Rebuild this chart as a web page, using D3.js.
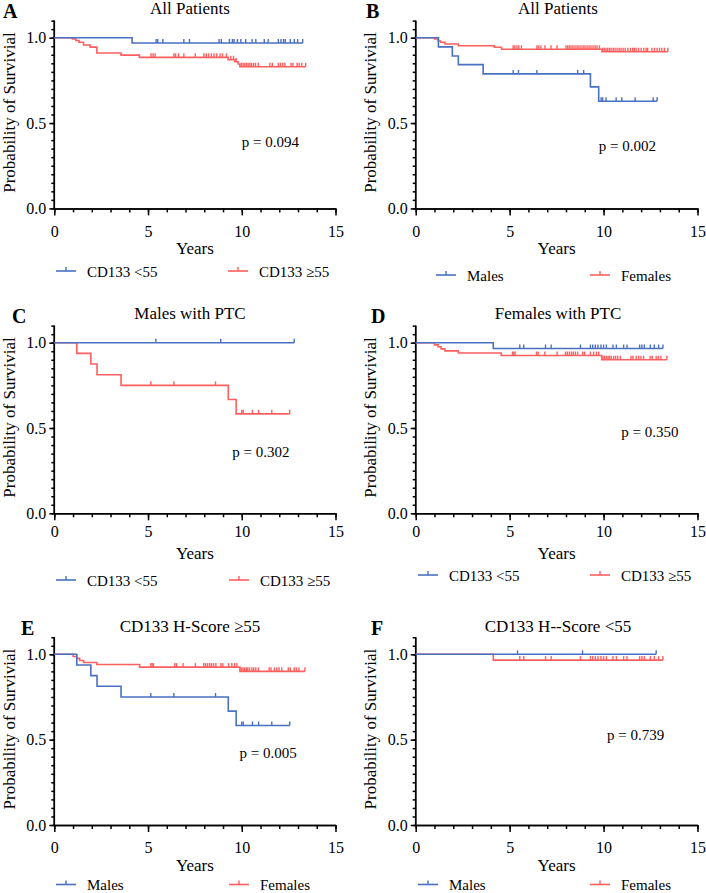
<!DOCTYPE html>
<html>
<head>
<meta charset="utf-8">
<script src="https://cdn.jsdelivr.net/npm/d3@7"></script>
<style>
  body { margin: 0; background: #fff; }
  svg { display: block; }
  svg text { font-family: "Liberation Serif", "Times New Roman", serif; }
</style>
</head>
<body>
<div id="container"></div>
<script>
// ---- data ----
const xMajorTicks = [0, 5, 10, 15];
const xMinorTicks = d3.range(0, 16, 1);
const yMajorTicks = [0, 0.5, 1.0];
const yMinorTicks = d3.range(0, 23).map(i => i * 0.05);

// [years, survival after the drop]
const allLowSteps = [[4.15, 0.969]];
const allLowCensor = [5.43, 5.52, 5.79, 6.91, 7.21, 8.79, 8.91, 9.34, 9.5, 9.59, 9.77, 9.95, 10.21, 10.55, 10.75, 11.2, 11.41, 11.95, 12.09, 12.23, 12.32, 12.59, 12.8, 12.98, 13.25];
const allHighSteps = [[0.97, 0.992], [1.15, 0.984], [1.32, 0.973], [1.56, 0.957], [1.91, 0.945], [2.27, 0.91], [3.56, 0.898], [4.54, 0.885], [9.27, 0.871], [9.63, 0.859], [9.81, 0.846], [9.9, 0.83]];
const allHighCensor = [5.16, 5.27, 5.38, 6.38, 6.47, 6.63, 6.91, 7.52, 7.98, 8.11, 8.23, 8.38, 8.52, 8.66, 8.84, 8.97, 9.18, 9.41, 9.56, 9.7, 9.98, 10.07, 10.16, 10.25, 10.34, 10.43, 10.52, 10.63, 10.73, 10.88, 11.5, 11.63, 11.95, 12.06, 12.18, 12.3, 12.63, 12.73, 12.95, 13.06, 13.2, 13.41];

const allMalesSteps = [[1.21, 0.946], [1.95, 0.893], [2.27, 0.842], [3.59, 0.788], [9.3, 0.712], [9.74, 0.628]];
const allMalesCensor = [5.19, 5.47, 6.45, 8.62, 8.94, 9.87, 9.95, 10.13, 10.67, 10.97, 11.68, 12.64, 12.85];
const allFemalesSteps = [[1.01, 0.992], [1.19, 0.981], [1.33, 0.973], [1.56, 0.963], [2.27, 0.953], [4.18, 0.944], [4.57, 0.932], [9.92, 0.918]];
const allFemalesCensor = [5.19, 5.28, 5.39, 5.49, 5.63, 6.45, 6.54, 6.67, 6.88, 7.2, 7.52, 8.0, 8.09, 8.18, 8.27, 8.37, 8.48, 8.59, 8.69, 8.8, 8.91, 9.01, 9.12, 9.23, 9.33, 9.44, 9.55, 9.65, 9.78, 9.95, 10.04, 10.13, 10.22, 10.31, 10.4, 10.51, 10.61, 10.72, 10.83, 10.93, 11.04, 11.15, 11.29, 11.43, 11.55, 11.64, 11.73, 11.86, 12.0, 12.14, 12.27, 12.35, 12.57, 12.71, 12.85, 12.98, 13.1, 13.24, 13.42];

const malesLowSteps = [];
const malesLowCensor = [5.42, 8.88, 12.8];
const malesHighSteps = [[1.2, 0.9375], [1.95, 0.875], [2.28, 0.8125], [3.56, 0.75], [9.28, 0.667], [9.7, 0.583]];
const malesHighCensor = [5.15, 6.38, 8.6, 10.0, 10.08, 10.57, 10.9, 11.6, 12.56];

const femalesLowSteps = [[4.13, 0.966]];
const femalesLowCensor = [5.54, 5.75, 6.91, 7.21, 8.77, 9.3, 9.42, 9.56, 9.7, 9.86, 10.0, 10.15, 10.5, 10.68, 11.07, 11.25, 11.92, 12.04, 12.17, 12.49, 12.7, 12.93, 13.16];
const femalesHighSteps = [[1.0, 0.987], [1.19, 0.976], [1.35, 0.964], [1.56, 0.952], [2.27, 0.94], [4.55, 0.925], [9.9, 0.9]];
const femalesHighCensor = [5.15, 5.22, 5.29, 6.43, 6.52, 6.87, 7.53, 7.97, 8.07, 8.18, 8.29, 8.39, 8.5, 8.62, 8.89, 8.99, 9.3, 9.47, 9.62, 9.74, 9.97, 10.06, 10.15, 10.24, 10.32, 10.41, 10.54, 10.64, 10.75, 10.89, 11.46, 11.56, 11.74, 11.87, 11.99, 12.13, 12.48, 12.59, 12.8, 12.91, 13.05, 13.37];

const BLUE = '#4a70c2';
const RED = '#ff5f5f';
const FONT = '"Liberation Serif", "Times New Roman", serif';

// panel layout
const cols = [{x0: 54.3, x1: 335.5}, {x0: 415.7, x1: 697.5}];
const rows = [{y0: 208.4, y1: 37.7, title: 14}, {y0: 513.3, y1: 342.7, title: 318.5}, {y0: 825, y1: 654.3, title: 631.5}];

const panels = [
  {letter: 'A', col: 0, row: 0, title: 'All Patients', p: 'p = 0.094', pAt: [10.0, 0.36],
   series: [{steps: allLowSteps, censor: allLowCensor, color: BLUE}, {steps: allHighSteps, censor: allHighCensor, color: RED}],
   legend: ['CD133 <55', 'CD133 \u226555'], legY: 271, legX: [56, 228], tickGap: 23},
  {letter: 'B', col: 1, row: 0, title: 'All Patients', p: 'p = 0.002', pAt: [9.75, 0.335],
   series: [{steps: allMalesSteps, censor: allMalesCensor, color: BLUE}, {steps: allFemalesSteps, censor: allFemalesCensor, color: RED}],
   legend: ['Males', 'Females'], legY: 275, legX: [436, 590], tickGap: 23},
  {letter: 'C', col: 0, row: 1, title: 'Males with PTC', p: 'p = 0.302', pAt: [9.49, 0.332],
   series: [{steps: malesLowSteps, censor: malesLowCensor, color: BLUE}, {steps: malesHighSteps, censor: malesHighCensor, color: RED}],
   legend: ['CD133 <55', 'CD133 \u226555'], legY: 580, legX: [56, 229], tickGap: 18},
  {letter: 'D', col: 1, row: 1, title: 'Females with PTC', p: 'p = 0.350', pAt: [10.94, 0.449],
   series: [{steps: femalesLowSteps, censor: femalesLowCensor, color: BLUE}, {steps: femalesHighSteps, censor: femalesHighCensor, color: RED}],
   legend: ['CD133 <55', 'CD133 \u226555'], legY: 575, legX: [418, 590], tickGap: 18},
  {letter: 'E', col: 0, row: 2, title: 'CD133 H-Score \u226555', p: 'p = 0.005', pAt: [9.88, 0.391],
   series: [{steps: malesHighSteps, censor: malesHighCensor, color: BLUE}, {steps: femalesHighSteps, censor: femalesHighCensor, color: RED}],
   legend: ['Males', 'Females'], legY: 884.5, legX: [56, 229], tickGap: 23},
  {letter: 'F', col: 1, row: 2, title: 'CD133 H--Score <55', p: 'p = 0.739', pAt: [10.18, 0.498],
   series: [{steps: malesLowSteps, censor: malesLowCensor, color: BLUE}, {steps: femalesLowSteps, censor: femalesLowCensor, color: RED}],
   legend: ['Males', 'Females'], legY: 884.5, legX: [418, 590], tickGap: 23},
];

const svg = d3.select('#container').append('svg')
  .attr('width', 706)
  .attr('height', 893)
  .attr('font-family', FONT);

const survAt = (steps, t) => {
  let s = 1;
  steps.forEach(d => { if (d[0] <= t) s = d[1]; });
  return s;
};

panels.forEach(pn => {
  const c = cols[pn.col], r = rows[pn.row];
  const x = d3.scaleLinear().domain([0, 15]).range([c.x0, c.x1]);
  const y = d3.scaleLinear().domain([0, 1]).range([r.y0, r.y1]);
  const g = svg.append('g');

  // axes: minor then major ticks
  const xMinor = g.append('g').attr('transform', `translate(0,${r.y0})`)
    .call(d3.axisBottom(x).tickValues(xMinorTicks).tickSize(4).tickSizeOuter(0).tickFormat(''));
  const xMajor = g.append('g').attr('transform', `translate(0,${r.y0})`)
    .call(d3.axisBottom(x).tickValues(xMajorTicks).tickSize(7).tickSizeOuter(0).tickPadding(pn.tickGap - 13).tickFormat(d3.format('d')));
  const yMinor = g.append('g').attr('transform', `translate(${c.x0},0)`)
    .call(d3.axisLeft(y).tickValues(yMinorTicks).tickSize(3).tickSizeOuter(0).tickFormat(''));
  const yMajor = g.append('g').attr('transform', `translate(${c.x0},0)`)
    .call(d3.axisLeft(y).tickValues(yMajorTicks).tickSize(5).tickSizeOuter(0).tickPadding(3).tickFormat(d3.format('.1f')));
  yMinor.select('.domain').attr('d', `M0,${y(0)}V${y(1.1)}`);
  yMajor.select('.domain').attr('d', `M0,${y(0)}V${y(1.1)}`);

  [xMinor, xMajor, yMinor, yMajor].forEach(a => {
    a.attr('font-family', FONT).attr('font-size', 16);
    a.selectAll('path, line').attr('stroke', '#000').attr('stroke-width', 1.5);
    a.selectAll('text').attr('fill', '#000').attr('font-family', FONT).attr('font-size', 16);
  });

  // curves (red first so blue sits on top where they overlap)
  pn.series.slice().reverse().forEach(s => {
    const end = d3.max([...s.censor, ...s.steps.map(d => d[0])]);
    const pts = [[0, 1], ...s.steps, [end, survAt(s.steps, end)]];
    g.append('path')
      .attr('d', d3.line().x(d => x(d[0])).y(d => y(d[1])).curve(d3.curveStepAfter)(pts))
      .attr('fill', 'none')
      .attr('stroke', s.color)
      .attr('stroke-width', 1.6);
    g.selectAll(null)
      .data(s.censor)
      .enter()
      .append('line')
        .attr('x1', d => x(d)).attr('x2', d => x(d))
        .attr('y1', d => y(survAt(s.steps, d)))
        .attr('y2', d => y(survAt(s.steps, d)) - 4)
        .attr('stroke', s.color)
        .attr('stroke-width', 1.4);
  });

  // text
  g.append('text')
    .attr('x', pn.col === 0 ? 190 : 558)
    .attr('y', r.title)
    .attr('text-anchor', 'middle')
    .attr('font-size', 17)
    .text(pn.title);
  g.append('text')
    .attr('x', pn.col === 0 ? (pn.row === 0 ? 3 : pn.row === 1 ? 12 : 21) : (pn.row === 0 ? 366 : 371))
    .attr('y', r.y1 - 19.5)
    .attr('font-size', 20)
    .attr('font-weight', 'bold')
    .text(pn.letter);
  const ly = (y(0) + y(1.1)) / 2 - 2;
  g.append('text')
    .attr('transform', `translate(${c.x0 - 39.5},${ly}) rotate(-90)`)
    .attr('text-anchor', 'middle')
    .attr('font-size', 17)
    .text('Probability of Survivial');
  g.append('text')
    .attr('x', (c.x0 + c.x1) / 2)
    .attr('y', r.y0 + 46)
    .attr('text-anchor', 'middle')
    .attr('font-size', 17)
    .text('Years');
  g.append('text')
    .attr('x', x(pn.pAt[0]))
    .attr('y', y(pn.pAt[1]))
    .attr('font-size', 15)
    .text(pn.p);

  // legend
  pn.legend.forEach((lab, i) => {
    const lx = pn.legX[i];
    const col = pn.series[i].color;
    g.append('line').attr('x1', lx).attr('x2', lx + 20).attr('y1', pn.legY).attr('y2', pn.legY)
      .attr('stroke', col).attr('stroke-width', 1.6);
    g.append('line').attr('x1', lx + 10).attr('x2', lx + 10).attr('y1', pn.legY).attr('y2', pn.legY - 4)
      .attr('stroke', col).attr('stroke-width', 1.4);
    g.append('text').attr('x', lx + 31).attr('y', pn.legY + 5.5)
      .attr('font-size', 15)
      .text(lab);
  });
});
</script>
</body>
</html>
